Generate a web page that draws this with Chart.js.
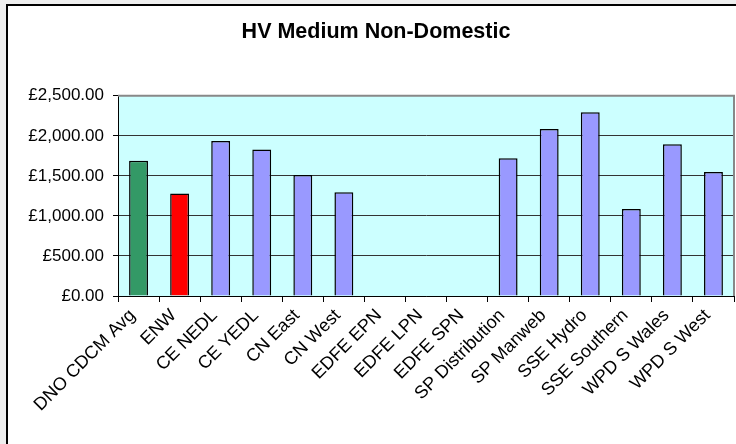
<!DOCTYPE html>
<html>
<head>
<meta charset="utf-8">
<script src="https://cdn.jsdelivr.net/npm/chart.js@4/dist/chart.umd.min.js"></script>
<style>
  html, body { margin: 0; padding: 0; background: #eeeeee; overflow: hidden; width: 736px; height: 444px; }
  #box { position: absolute; left: 6px; top: 4px; width: 760px; height: 460px; border: 2px solid #000; background: #fff; }
  #c { position: absolute; left: 0; top: 0; }
</style>
</head>
<body>
<div id="box"><canvas id="c" width="736" height="440"></canvas></div>
<script>
const title = "HV Medium Non-Domestic";
const categories = ["DNO CDCM Avg","ENW","CE NEDL","CE YEDL","CN East","CN West","EDFE EPN","EDFE LPN","EDFE SPN","SP Distribution","SP Manweb","SSE Hydro","SSE Southern","WPD S Wales","WPD S West"];
const values = [1690,1280,1935,1830,1510,1295,null,null,null,1720,2085,2295,1085,1895,1550];
const barColors = ["#339966","#ff0000","#9999ff","#9999ff","#9999ff","#9999ff","#9999ff","#9999ff","#9999ff","#9999ff","#9999ff","#9999ff","#9999ff","#9999ff","#9999ff"];
const yTicks = [0,500,1000,1500,2000,2500];

const plotBg = {
  id: 'plotBg',
  beforeDraw(chart) {
    const {ctx, chartArea: a} = chart;
    ctx.save();
    ctx.fillStyle = '#ccffff';
    ctx.fillRect(a.left, a.top, a.right - a.left, a.bottom - a.top);
    ctx.restore();
  },
  afterDraw(chart) {
    const {ctx, chartArea: a} = chart;
    ctx.save();
    ctx.strokeStyle = '#888888';
    ctx.lineWidth = 2;
    ctx.beginPath();
    ctx.moveTo(a.left, a.top);
    ctx.lineTo(a.right, a.top);
    ctx.lineTo(a.right, a.bottom);
    ctx.stroke();
    ctx.restore();
  }
};

const fmt = v => '£' + Number(v).toLocaleString('en-GB', {minimumFractionDigits: 2, maximumFractionDigits: 2});

new Chart(document.getElementById('c'), {
  type: 'bar',
  data: {
    labels: categories,
    datasets: [{
      data: values,
      backgroundColor: barColors,
      borderColor: '#000',
      borderWidth: 1.5,
      barPercentage: 0.46,
      categoryPercentage: 1.0
    }]
  },
  options: {
    responsive: false,
    animation: false,
    devicePixelRatio: 1,
    layout: { padding: { left: 10, right: 10, top: 0, bottom: 0 } },
    plugins: {
      legend: { display: false },
      tooltip: { enabled: false },
      title: {
        display: true,
        text: title,
        color: '#000',
        font: { family: 'Liberation Sans, Arial, sans-serif', size: 21.5, weight: 'bold' },
        padding: { top: 13, bottom: 51 }
      }
    },
    scales: {
      x: {
        offset: true,
        grid: { offset: true, drawOnChartArea: false, drawTicks: true, tickLength: 6, color: '#000' },
        border: { color: '#000', width: 1 },
        ticks: {
          color: '#000',
          font: { family: 'Liberation Sans, Arial, sans-serif', size: 18 },
          minRotation: 45, maxRotation: 45, autoSkip: false, padding: 3, labelOffset: -6
        },
        afterFit(s) { s.height = 150; }
      },
      y: {
        min: 0, max: 2500,
        afterBuildTicks(s) { s.ticks = yTicks.map(v => ({value: v})); },
        grid: {
          color: ctx => (ctx.tick && ctx.tick.value === 2500) ? '#888888' : '#333333',
          lineWidth: 1, tickLength: 5, tickColor: '#000'
        },
        border: { color: '#000', width: 1 },
        ticks: {
          color: '#000',
          font: { family: 'Liberation Sans, Arial, sans-serif', size: 17 },
          padding: 9,
          callback: v => fmt(v)
        },
        afterFit(s) { s.width = 100; }
      }
    }
  },
  plugins: [plotBg]
});
</script>
</body>
</html>
